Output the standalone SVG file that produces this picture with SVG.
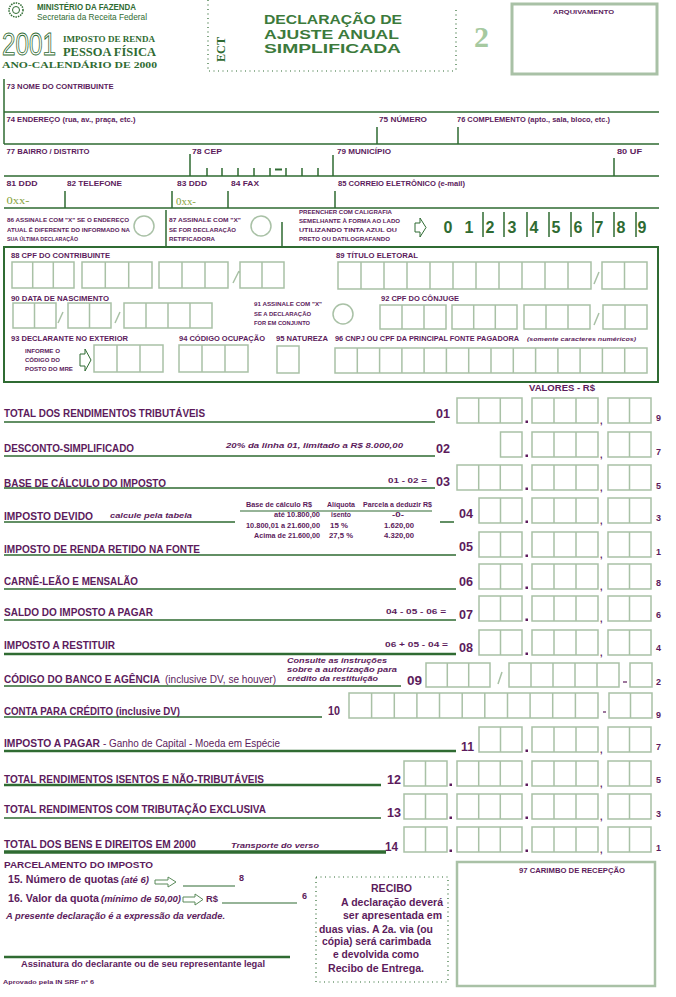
<svg xmlns="http://www.w3.org/2000/svg" xmlns:xlink="http://www.w3.org/1999/xlink" width="676" height="997" viewBox="0 0 676 997">
<style>
.p{font-family:"Liberation Sans",Arial,sans-serif;font-weight:bold;fill:#5c1b5c}
.r{font-weight:normal}
.it{font-style:italic}
.sf{font-family:"Liberation Serif","Times New Roman",serif}
.gr{fill:#2f6b32}
.ln{stroke:#2f6b32;stroke-width:1.5;fill:none}
.c{stroke:#a9c1a6;stroke-width:1.5;fill:none}
.dot{stroke:#2f6b32;stroke-width:1.2;fill:none;stroke-dasharray:1 3.5}
.s6{font-size:6px}
.s7{font-size:7px}
.s8{font-size:8px}
.s9{font-size:9px}
.s10{font-size:10px}
.n{font-size:13px}
.ti{font-size:13.5px;fill:#3c7a3c}
</style>
<defs>
<g id="B3"><path class="c" d="M457 0H522V25H457Z M478.7 0V25 M500.3 0V25"/></g>
<g id="B2"><path class="c" d="M479 0H522V25H479Z M500.5 0V25"/></g>
<g id="B1"><path class="c" d="M500.5 0H522V25H500.5Z"/></g>
<g id="CD"><path class="c" d="M532 0H598V25H532Z M554 0V25 M576 0V25 M608 0H651V25H608Z M629.5 0V25"/><rect x="525.5" y="22.5" width="2.5" height="2.5" fill="#5c1b5c"/><text class="p s9" x="600" y="26">,</text></g>
<g id="A2"><path class="c" d="M404 0H447V25H404Z M425.5 0V25"/><rect x="449.5" y="22.5" width="2.5" height="2.5" fill="#5c1b5c"/></g>
</defs>
<rect width="676" height="997" fill="#ffffff"/>

<g id="header">
<g id="logo"><circle cx="16" cy="10" r="7" fill="none" stroke="#2f6b32" stroke-width="1.5" stroke-dasharray="1.5 1"/><circle cx="16" cy="10" r="3.5" fill="none" stroke="#2f6b32" stroke-width="1"/></g>
<text class="p gr" x="37" y="10" font-size="8.5" textLength="99" lengthAdjust="spacingAndGlyphs">MINISTÉRIO DA FAZENDA</text>
<text class="p gr r" x="37" y="19.5" font-size="8.5" textLength="110" lengthAdjust="spacingAndGlyphs">Secretaria da Receita Federal</text>
<text x="2" y="55" font-family="Liberation Sans, Arial, sans-serif" font-size="31" fill="none" stroke="#2f6b32" stroke-width="0.9" textLength="54" lengthAdjust="spacingAndGlyphs">2001</text>
<text class="p sf gr" x="63" y="41.5" font-size="8" textLength="92" lengthAdjust="spacingAndGlyphs">IMPOSTO DE RENDA</text>
<text class="p sf gr" x="63" y="56" font-size="11.5" textLength="93" lengthAdjust="spacingAndGlyphs">PESSOA FÍSICA</text>
<text class="p sf gr" x="2" y="68" font-size="7.5" textLength="155" lengthAdjust="spacingAndGlyphs">ANO-CALENDÁRIO DE 2000</text>
<path class="dot" d="M208 0V71H454 M456 10V71"/>
<text class="p sf gr" transform="translate(225,62) rotate(-90)" font-size="12" textLength="25" lengthAdjust="spacingAndGlyphs">ECT</text>
<text class="p ti" x="264" y="24" textLength="138" lengthAdjust="spacingAndGlyphs">DECLARAÇÃO DE</text>
<text class="p ti" x="264" y="38.5" textLength="135" lengthAdjust="spacingAndGlyphs">AJUSTE ANUAL</text>
<text class="p ti" x="264" y="52.5" textLength="137" lengthAdjust="spacingAndGlyphs">SIMPLIFICADA</text>
<text class="p sf" x="474" y="47" font-size="30" style="fill:#a6c9a0">2</text>
<rect x="512" y="4" width="145" height="70" fill="none" stroke="#a9c1a6" stroke-width="3"/>
<text class="p" x="553" y="14" font-size="6" textLength="61" lengthAdjust="spacingAndGlyphs">ARQUIVAMENTO</text>
</g>

<g id="fields">
<path class="ln" d="M4 79V144 M4 112H659 M4 144H659 M4 176H659 M4 208H659 M377 127V144 M458 127V144 M190 154V176 M333 155V176 M614 158V176 M207 168V176 M222 168V176 M238 168V176 M254 168V176 M270 168V176 M286 168V176 M302 168V176 M318 168V176 M65 191V208 M172 191V208 M228 191V208 M335 191V208"/>
<path d="M275 169.5H282" stroke="#2f6b32" stroke-width="2"/>
<text class="p s7" x="6.5" y="89" textLength="107" lengthAdjust="spacingAndGlyphs">73 NOME DO CONTRIBUINTE</text>
<text class="p s7" x="6.5" y="121.5" textLength="129" lengthAdjust="spacingAndGlyphs">74 ENDEREÇO (rua, av., praça, etc.)</text>
<text class="p s7" x="379" y="121.5" textLength="48" lengthAdjust="spacingAndGlyphs">75 NÚMERO</text>
<text class="p s7" x="457" y="121.5" textLength="153" lengthAdjust="spacingAndGlyphs">76 COMPLEMENTO (apto., sala, bloco, etc.)</text>
<text class="p s7" x="6.5" y="153.5" textLength="83" lengthAdjust="spacingAndGlyphs">77 BAIRRO / DISTRITO</text>
<text class="p s7" x="192" y="153.5" textLength="30" lengthAdjust="spacingAndGlyphs">78 CEP</text>
<text class="p s7" x="337" y="153.5" textLength="54" lengthAdjust="spacingAndGlyphs">79 MUNICÍPIO</text>
<text class="p s7" x="617" y="153.5" textLength="25" lengthAdjust="spacingAndGlyphs">80 UF</text>
<text class="p s7" x="6.5" y="186" textLength="31" lengthAdjust="spacingAndGlyphs">81 DDD</text>
<text class="p s7" x="67" y="186" textLength="55" lengthAdjust="spacingAndGlyphs">82 TELEFONE</text>
<text class="p s7" x="177" y="186" textLength="30" lengthAdjust="spacingAndGlyphs">83 DDD</text>
<text class="p s7" x="231" y="186" textLength="28" lengthAdjust="spacingAndGlyphs">84 FAX</text>
<text class="p s7" x="338" y="186" textLength="127" lengthAdjust="spacingAndGlyphs">85 CORREIO ELETRÔNICO (e-mail)</text>
<text class="sf" x="6.5" y="204" font-size="10" fill="#86a23a" textLength="23" lengthAdjust="spacingAndGlyphs">0xx-</text>
<text class="sf" x="176" y="205" font-size="10" fill="#86a23a" textLength="20" lengthAdjust="spacingAndGlyphs">0xx-</text>
</g>

<g id="marks">
<path class="ln" d="M166 210V247 M282 222V247"/>
<text class="p s6" x="7" y="222" textLength="122" lengthAdjust="spacingAndGlyphs">86 ASSINALE COM "X" SE O ENDEREÇO</text>
<text class="p s6" x="7" y="232" textLength="123" lengthAdjust="spacingAndGlyphs">ATUAL É DIFERENTE DO INFORMADO NA</text>
<text class="p s6" x="7" y="241" textLength="71" lengthAdjust="spacingAndGlyphs">SUA ÚLTIMA DECLARAÇÃO</text>
<circle class="c" cx="144" cy="226" r="10"/>
<text class="p s6" x="169" y="222" textLength="72" lengthAdjust="spacingAndGlyphs">87 ASSINALE COM "X"</text>
<text class="p s6" x="169" y="232" textLength="67" lengthAdjust="spacingAndGlyphs">SE FOR DECLARAÇÃO</text>
<text class="p s6" x="169" y="241" textLength="46" lengthAdjust="spacingAndGlyphs">RETIFICADORA</text>
<circle class="c" cx="261" cy="226" r="10"/>
<text class="p s6" x="299" y="214" textLength="93" lengthAdjust="spacingAndGlyphs">PREENCHER COM CALIGRAFIA</text>
<text class="p s6" x="299" y="223" textLength="101" lengthAdjust="spacingAndGlyphs">SEMELHANTE À FORMA AO LADO</text>
<text class="p s6" x="299" y="232" textLength="98" lengthAdjust="spacingAndGlyphs">UTILIZANDO TINTA AZUL OU</text>
<text class="p s6" x="299" y="241" textLength="91" lengthAdjust="spacingAndGlyphs">PRETO OU DATILOGRAFANDO</text>
<polygon points="415,223 420,223 420,218 426,227.5 420,237 420,232 415,232" fill="none" stroke="#2f6b32" stroke-width="1"/>
<path class="ln" d="M483 212V237 M504 212V237 M527 212V237 M549 212V237 M571 212V237 M593 212V237 M614 212V237 M636 212V237"/>
<g class="p gr" font-size="16" text-anchor="middle">
<text x="448" y="233">0</text><text x="469" y="233">1</text><text x="490" y="233">2</text><text x="512" y="233">3</text><text x="534" y="233">4</text><text x="556" y="233">5</text><text x="578" y="233">6</text><text x="599" y="233">7</text><text x="621" y="233">8</text><text x="642" y="233">9</text>
</g>
</g>

<g id="box88">
<rect x="4" y="247" width="654" height="135" fill="none" stroke="#2f6b32" stroke-width="2"/>
<text class="p s7" x="11" y="258" textLength="99" lengthAdjust="spacingAndGlyphs">88 CPF DO CONTRIBUINTE</text>
<text class="p s7" x="336" y="258" textLength="82" lengthAdjust="spacingAndGlyphs">89 TÍTULO ELETORAL</text>
<path class="c" d="M12 262H74V288H12Z M32.7 262V288 M53.3 262V288 M82 262H152V288H82Z M105.3 262V288 M128.7 262V288 M159 262H228V288H159Z M182 262V288 M205 262V288 M240 262H284V288H240Z M262 262V288 M233 283L239 271"/>
<path class="c" d="M338 262H591V289H338Z M361 262V289 M384 262V289 M407 262V289 M430 262V289 M453 262V289 M476 262V289 M499 262V289 M522 262V289 M545 262V289 M568 262V289 M594 284L599 272 M602 262H647V289H602Z M624.5 262V289"/>
<text class="p s7" x="11" y="301" textLength="98" lengthAdjust="spacingAndGlyphs">90 DATA DE NASCIMENTO</text>
<path class="c" d="M13 303H56V328H13Z M34.5 303V328 M58 323L63 312 M68 303H111V328H68Z M89.5 303V328 M115 323L120 312 M124 303H212V328H124Z M146 303V328 M168 303V328 M190 303V328"/>
<text class="p s6" x="254" y="306" textLength="68" lengthAdjust="spacingAndGlyphs">91 ASSINALE COM "X"</text>
<text class="p s6" x="254" y="316" textLength="57" lengthAdjust="spacingAndGlyphs">SE A DECLARAÇÃO</text>
<text class="p s6" x="254" y="325" textLength="56" lengthAdjust="spacingAndGlyphs">FOR EM CONJUNTO</text>
<circle class="c" cx="343" cy="314" r="10"/>
<text class="p s7" x="381" y="301" textLength="78" lengthAdjust="spacingAndGlyphs">92 CPF DO CÔNJUGE</text>
<path class="c" d="M380 305H446V329H380Z M402 305V329 M424 305V329 M452 305H517V329H452Z M473.7 305V329 M495.3 305V329 M524 305H590V329H524Z M546 305V329 M568 305V329 M594 325L599 313 M603 305H647V329H603Z M625 305V329"/>
<text class="p s7" x="11" y="341" textLength="117" lengthAdjust="spacingAndGlyphs">93 DECLARANTE NO EXTERIOR</text>
<text class="p" x="25" y="353" font-size="5.5" textLength="35" lengthAdjust="spacingAndGlyphs">INFORME O</text>
<text class="p" x="25" y="362" font-size="5.5" textLength="35" lengthAdjust="spacingAndGlyphs">CÓDIGO DO</text>
<text class="p" x="25" y="371" font-size="5.5" textLength="48" lengthAdjust="spacingAndGlyphs">POSTO DO MRE</text>
<polygon points="80,354 85,354 85,349 91,360 85,371 85,366 80,366" fill="none" stroke="#2f6b32" stroke-width="1"/>
<path class="c" d="M94 345H163V372H94Z M117 345V372 M140 345V372"/>
<text class="p s7" x="179" y="341" textLength="86" lengthAdjust="spacingAndGlyphs">94 CÓDIGO OCUPAÇÃO</text>
<path class="c" d="M179 345H248V372H179Z M202 345V372 M225 345V372"/>
<text class="p s7" x="276" y="341" textLength="52" lengthAdjust="spacingAndGlyphs">95 NATUREZA</text>
<path class="c" d="M277 346H299V373H277Z"/>
<text class="p s7" x="335" y="341" textLength="184" lengthAdjust="spacingAndGlyphs">96 CNPJ OU CPF DA PRINCIPAL FONTE PAGADORA</text>
<text class="p it s6" x="527" y="341" textLength="109" lengthAdjust="spacingAndGlyphs">(somente caracteres numéricos)</text>
<path class="c" d="M335 348H647V373H335Z M357.3 348V373 M379.6 348V373 M401.9 348V373 M424.1 348V373 M446.4 348V373 M468.7 348V373 M491 348V373 M513.3 348V373 M535.6 348V373 M557.9 348V373 M580.1 348V373 M602.4 348V373 M624.7 348V373"/>
</g>

<g id="values">
<text class="p" x="529" y="391" font-size="8.5" textLength="66" lengthAdjust="spacingAndGlyphs">VALORES - R$</text>
<path class="ln" d="M4 422H435 M4 456H435 M4 488H435 M4 522H235 M440 522H454 M4 555H456 M4 589H456 M4 620H456 M4 686H401 M4 717H322 M4 818H381"/>
<path class="ln" style="stroke-width:2.5" d="M4 654H456 M4 751H456 M4 785H381"/>
<path class="ln" style="stroke-width:3.5" d="M4 852H386"/>
<path class="ln" style="stroke-width:1.2" d="M240 511H432"/>

<g id="r01"><use href="#B3" xlink:href="#B3" y="398"/><use href="#CD" xlink:href="#CD" y="398"/>
<text class="p s10" x="4" y="417" textLength="201" lengthAdjust="spacingAndGlyphs">TOTAL DOS RENDIMENTOS TRIBUTÁVEIS</text>
<text class="p n" x="436" y="418" textLength="14" lengthAdjust="spacingAndGlyphs">01</text>
<text class="p s9" x="656" y="421">9</text></g>

<g id="r02"><use href="#B1" xlink:href="#B1" y="432"/><use href="#CD" xlink:href="#CD" y="432"/>
<text class="p s10" x="4" y="452" textLength="130" lengthAdjust="spacingAndGlyphs">DESCONTO-SIMPLIFICADO</text>
<text class="p it s8" x="226" y="448" textLength="177" lengthAdjust="spacingAndGlyphs">20% da linha 01, limitado a R$ 8.000,00</text>
<text class="p n" x="436" y="453" textLength="14" lengthAdjust="spacingAndGlyphs">02</text>
<text class="p s9" x="656" y="455">7</text></g>

<g id="r03"><use href="#B3" xlink:href="#B3" y="465"/><use href="#CD" xlink:href="#CD" y="465"/>
<text class="p s10" x="4" y="487" textLength="162" lengthAdjust="spacingAndGlyphs">BASE DE CÁLCULO DO IMPOSTO</text>
<text class="p s8" x="388" y="483" textLength="39" lengthAdjust="spacingAndGlyphs">01 - 02 =</text>
<text class="p n" x="436" y="486" textLength="14" lengthAdjust="spacingAndGlyphs">03</text>
<text class="p s9" x="656" y="489">5</text></g>

<g id="r04"><use href="#B2" xlink:href="#B2" y="498"/><use href="#CD" xlink:href="#CD" y="498"/>
<text class="p s10" x="4" y="520" textLength="89" lengthAdjust="spacingAndGlyphs">IMPOSTO DEVIDO</text>
<text class="p it s8" x="110" y="518" textLength="82" lengthAdjust="spacingAndGlyphs">calcule pela tabela</text>
<g font-size="6.5">
<text class="p" x="246" y="507" textLength="66" lengthAdjust="spacingAndGlyphs">Base de cálculo R$</text>
<text class="p" x="327" y="507" textLength="28" lengthAdjust="spacingAndGlyphs">Alíquota</text>
<text class="p" x="363" y="507" textLength="69" lengthAdjust="spacingAndGlyphs">Parcela a deduzir R$</text>
<text class="p" x="274" y="517" textLength="46" lengthAdjust="spacingAndGlyphs">até 10.800,00</text>
<text class="p" x="331" y="517" textLength="20" lengthAdjust="spacingAndGlyphs">isento</text>
<text class="p" x="392" y="517" textLength="12" lengthAdjust="spacingAndGlyphs">-0-</text>
<text class="p" x="246" y="528" textLength="74" lengthAdjust="spacingAndGlyphs">10.800,01 a 21.600,00</text>
<text class="p" x="330" y="528" textLength="18" lengthAdjust="spacingAndGlyphs">15 %</text>
<text class="p" x="384" y="528" textLength="30" lengthAdjust="spacingAndGlyphs">1.620,00</text>
<text class="p" x="254" y="538" textLength="66" lengthAdjust="spacingAndGlyphs">Acima de 21.600,00</text>
<text class="p" x="329" y="538" textLength="24" lengthAdjust="spacingAndGlyphs">27,5 %</text>
<text class="p" x="384" y="538" textLength="30" lengthAdjust="spacingAndGlyphs">4.320,00</text>
</g>
<text class="p n" x="459" y="518" textLength="14" lengthAdjust="spacingAndGlyphs">04</text>
<text class="p s9" x="656" y="521">3</text></g>

<g id="r05"><use href="#B2" xlink:href="#B2" y="532"/><use href="#CD" xlink:href="#CD" y="532"/>
<text class="p s10" x="4" y="553" textLength="196" lengthAdjust="spacingAndGlyphs">IMPOSTO DE RENDA RETIDO NA FONTE</text>
<text class="p n" x="459" y="551" textLength="14" lengthAdjust="spacingAndGlyphs">05</text>
<text class="p s9" x="656" y="555">1</text></g>

<g id="r06"><use href="#B2" xlink:href="#B2" y="564"/><use href="#CD" xlink:href="#CD" y="564"/>
<text class="p s10" x="4" y="585" textLength="134" lengthAdjust="spacingAndGlyphs">CARNÊ-LEÃO E MENSALÃO</text>
<text class="p n" x="459" y="586" textLength="14" lengthAdjust="spacingAndGlyphs">06</text>
<text class="p s9" x="656" y="586">8</text></g>

<g id="r07"><use href="#B2" xlink:href="#B2" y="596"/><use href="#CD" xlink:href="#CD" y="596"/>
<text class="p s10" x="4" y="616" textLength="149" lengthAdjust="spacingAndGlyphs">SALDO DO IMPOSTO A PAGAR</text>
<text class="p s8" x="386" y="614" textLength="60" lengthAdjust="spacingAndGlyphs">04 - 05 - 06 =</text>
<text class="p n" x="459" y="619" textLength="14" lengthAdjust="spacingAndGlyphs">07</text>
<text class="p s9" x="656" y="618">6</text></g>

<g id="r08"><use href="#B2" xlink:href="#B2" y="630"/><use href="#CD" xlink:href="#CD" y="630"/>
<text class="p s10" x="4" y="649" textLength="111" lengthAdjust="spacingAndGlyphs">IMPOSTO A RESTITUIR</text>
<text class="p s8" x="385" y="647" textLength="63" lengthAdjust="spacingAndGlyphs">06 + 05 - 04 =</text>
<text class="p n" x="459" y="652" textLength="14" lengthAdjust="spacingAndGlyphs">08</text>
<text class="p s9" x="656" y="651">4</text></g>

<g id="r09">
<path class="c" d="M426 663H490V687H426Z M447.3 663V687 M468.7 663V687 M498 684L502 672 M509 663H619V687H509Z M531 663V687 M553 663V687 M575 663V687 M597 663V687 M630 663H652V687H630Z"/>
<path d="M623 682H627" stroke="#5c1b5c" stroke-width="1.2"/>
<text class="p s10" x="4" y="683" textLength="156" lengthAdjust="spacingAndGlyphs">CÓDIGO DO BANCO E AGÊNCIA</text>
<text class="p r s10" x="165" y="683" textLength="111" lengthAdjust="spacingAndGlyphs">(inclusive DV, se houver)</text>
<text class="p it s8" x="287" y="663" textLength="100" lengthAdjust="spacingAndGlyphs">Consulte as instruções</text>
<text class="p it s8" x="287" y="672" textLength="110" lengthAdjust="spacingAndGlyphs">sobre a autorização para</text>
<text class="p it s8" x="287" y="681" textLength="91" lengthAdjust="spacingAndGlyphs">crédito da restituição</text>
<text class="p n" x="407" y="685" textLength="15" lengthAdjust="spacingAndGlyphs">09</text>
<text class="p s9" x="656" y="685">2</text></g>

<g id="r10">
<path class="c" d="M349 693H598V718H349Z M371.6 693V718 M394.3 693V718 M416.9 693V718 M439.5 693V718 M462.2 693V718 M484.8 693V718 M507.5 693V718 M530.1 693V718 M552.7 693V718 M575.4 693V718 M609 693H652V718H609Z M630.5 693V718"/>
<path d="M603 712H606" stroke="#5c1b5c" stroke-width="1.2"/>
<text class="p s10" x="4" y="715" textLength="176" lengthAdjust="spacingAndGlyphs">CONTA PARA CRÉDITO (inclusive DV)</text>
<text class="p n" x="328" y="715" textLength="12" lengthAdjust="spacingAndGlyphs">10</text>
<text class="p s9" x="656" y="718">9</text></g>

<g id="r11"><use href="#B2" xlink:href="#B2" y="727"/><use href="#CD" xlink:href="#CD" y="727"/>
<text class="p s10" x="4" y="747" textLength="96" lengthAdjust="spacingAndGlyphs">IMPOSTO A PAGAR</text>
<text class="p r s10" x="103" y="747" textLength="177" lengthAdjust="spacingAndGlyphs">- Ganho de Capital - Moeda em Espécie</text>
<text class="p n" x="461" y="751" textLength="13" lengthAdjust="spacingAndGlyphs">11</text>
<text class="p s9" x="656" y="750">7</text></g>

<g id="r12"><use href="#A2" xlink:href="#A2" y="761"/><use href="#B3" xlink:href="#B3" y="761"/><use href="#CD" xlink:href="#CD" y="761"/>
<text class="p s10" x="4" y="783" textLength="260" lengthAdjust="spacingAndGlyphs">TOTAL RENDIMENTOS ISENTOS E NÃO-TRIBUTÁVEIS</text>
<text class="p n" x="387" y="784" textLength="14" lengthAdjust="spacingAndGlyphs">12</text>
<text class="p s9" x="656" y="783">5</text></g>

<g id="r13"><use href="#A2" xlink:href="#A2" y="794"/><use href="#B3" xlink:href="#B3" y="794"/><use href="#CD" xlink:href="#CD" y="794"/>
<text class="p s10" x="4" y="813" textLength="262" lengthAdjust="spacingAndGlyphs">TOTAL RENDIMENTOS COM TRIBUTAÇÃO EXCLUSIVA</text>
<text class="p n" x="387" y="817" textLength="14" lengthAdjust="spacingAndGlyphs">13</text>
<text class="p s9" x="656" y="817">3</text></g>

<g id="r14"><use href="#A2" xlink:href="#A2" y="827"/><use href="#B3" xlink:href="#B3" y="827"/><use href="#CD" xlink:href="#CD" y="827"/>
<text class="p s10" x="4" y="848" textLength="192" lengthAdjust="spacingAndGlyphs">TOTAL DOS BENS E DIREITOS EM 2000</text>
<text class="p it s8" x="231" y="848" textLength="88" lengthAdjust="spacingAndGlyphs">Transporte do verso</text>
<text class="p n" x="385" y="851" textLength="13" lengthAdjust="spacingAndGlyphs">14</text>
<text class="p s9" x="656" y="851">1</text></g>
</g>

<g id="bottom">
<text class="p s9" x="4" y="868" textLength="149" lengthAdjust="spacingAndGlyphs">PARCELAMENTO DO IMPOSTO</text>
<text class="p s10" x="8" y="883" textLength="111" lengthAdjust="spacingAndGlyphs">15. Número de quotas</text>
<text class="p it s9" x="121" y="883" textLength="28" lengthAdjust="spacingAndGlyphs">(até 6)</text>
<polygon points="155,880 168,880 168,877 176,882 168,887 168,884 155,884" fill="none" stroke="#5a8a5a" stroke-width="1"/>
<path class="ln" style="stroke-width:1.2" d="M183 886H235 M222 903H297"/>
<text class="p s9" x="239" y="881">8</text>
<text class="p s10" x="8" y="902" textLength="91" lengthAdjust="spacingAndGlyphs">16. Valor da quota</text>
<text class="p it s9" x="101" y="902" textLength="80" lengthAdjust="spacingAndGlyphs">(mínimo de 50,00)</text>
<polygon points="183,897 195,897 195,894 203,899.5 195,905 195,902 183,902" fill="none" stroke="#5a8a5a" stroke-width="1"/>
<text class="p s9" x="206" y="902" textLength="12" lengthAdjust="spacingAndGlyphs">R$</text>
<text class="p s9" x="302" y="899">6</text>
<text class="p it" x="6" y="919" font-size="8.5" textLength="219" lengthAdjust="spacingAndGlyphs">A presente declaração é a expressão da verdade.</text>
<path class="ln" style="stroke-width:2.5" d="M4 957H290"/>
<text class="p s9" x="21" y="967" textLength="244" lengthAdjust="spacingAndGlyphs">Assinatura do declarante ou de seu representante legal</text>
<text class="p s6" x="3" y="984" textLength="91" lengthAdjust="spacingAndGlyphs">Aprovado pela IN SRF nº 6</text>
</g>

<g id="recibo">
<rect class="dot" x="316" y="877" width="132" height="105"/>
<text class="p" x="371" y="892" font-size="11" textLength="41" lengthAdjust="spacingAndGlyphs">RECIBO</text>
<g font-size="10.5">
<text class="p" x="341" y="906" textLength="102" lengthAdjust="spacingAndGlyphs">A declaração deverá</text>
<text class="p" x="343" y="919" textLength="99" lengthAdjust="spacingAndGlyphs">ser apresentada em</text>
<text class="p" x="319" y="933" textLength="114" lengthAdjust="spacingAndGlyphs">duas vias. A 2a. via (ou</text>
<text class="p" x="322" y="945" textLength="109" lengthAdjust="spacingAndGlyphs">cópia) será carimbada</text>
<text class="p" x="333" y="958" textLength="86" lengthAdjust="spacingAndGlyphs">e devolvida como</text>
<text class="p" x="328" y="972" textLength="96" lengthAdjust="spacingAndGlyphs">Recibo de Entrega.</text>
</g>
</g>

<g id="carimbo">
<rect x="457" y="862" width="198" height="124" fill="none" stroke="#a9c1a6" stroke-width="2.5"/>
<text class="p" x="519" y="873" font-size="6.5" textLength="106" lengthAdjust="spacingAndGlyphs">97 CARIMBO DE RECEPÇÃO</text>
</g>
</svg>
